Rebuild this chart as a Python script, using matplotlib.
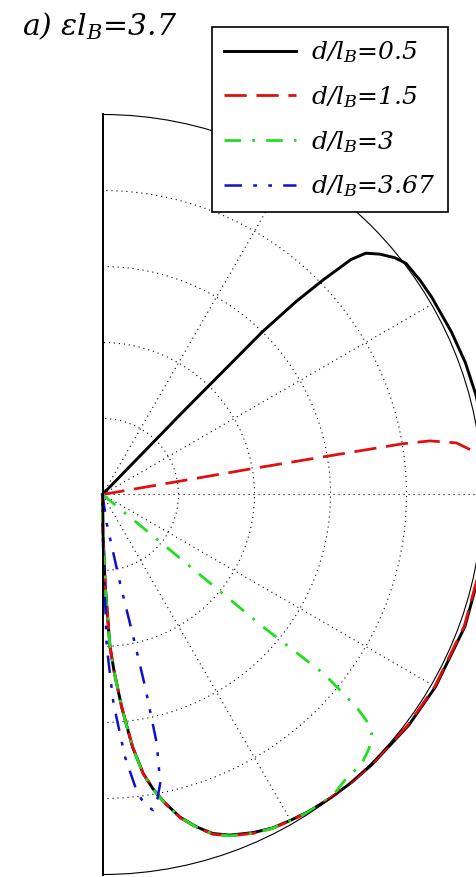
import numpy as np
import matplotlib
matplotlib.use("Agg")
import matplotlib.pyplot as plt

plt.rcParams['mathtext.fontset'] = 'dejavuserif'

# ---- data: (theta in degrees, normalised radius) ----
labels = [r'd/$l_B$=0.5', r'd/$l_B$=1.5', r'd/$l_B$=3', r'd/$l_B$=3.67']

theta_05 = [46.0, 45.8, 45.5, 44.9, 44.2, 43.4, 42.5, 40.9, 39.0, 37.3, 34.0, 31.0, 25.0,
            20.0, 15.0, 10.0, 5.0, 0.0, -10.0, -20.0, -30.0, -37.0, -45.0, -49.0, -53.0,
            -57.0, -60.0, -63.0, -66.0, -69.5, -72.0, -74.2, -76.5, -78.7, -80.3, -81.7,
            -83.2, -84.8, -86.2, -87.2, -88.3, -89.3, -90.0]
r_05 = [0.0, 0.30, 0.60, 0.72, 0.81, 0.90, 0.94, 0.966, 0.99, 1.004, 1.008, 1.01, 1.013,
        1.016, 1.017, 1.018, 1.018, 1.018, 1.016, 1.015, 1.012, 1.009, 1.004, 1.002, 0.999,
        0.995, 0.99, 0.985, 0.974, 0.957, 0.938, 0.909, 0.873, 0.825, 0.785, 0.742,
        0.67, 0.565, 0.47, 0.40, 0.24, 0.10, 0.0]

theta_15 = [9.9, 9.8, 9.6, 9.3, 8.3, 6.5, 4.0, 0.0, -10.0, -20.0, -30.0, -37.0, -45.0,
            -49.0, -53.0, -57.0, -60.0, -63.0, -66.0, -69.5, -72.0, -74.2, -76.5, -78.7,
            -80.3, -81.7, -83.2, -84.8, -86.2, -87.2, -88.3, -89.3, -90.0]
r_15 = [0.0, 0.40, 0.80, 0.873, 0.941, 0.987, 1.005, 1.012, 1.014, 1.013, 1.010, 1.007,
        1.003, 1.001, 0.999, 0.996, 0.991, 0.986, 0.976, 0.959, 0.940, 0.911, 0.875,
        0.826, 0.786, 0.742, 0.668, 0.563, 0.468, 0.398, 0.238, 0.10, 0.0]

theta_3 = [-40.0, -39.4, -39.5, -39.0, -39.9, -40.6, -41.6, -43.6, -46.0, -49.7, -52.5,
           -57.0, -60.0, -63.0, -66.0, -69.5, -72.0, -74.2, -76.5, -78.7, -80.3, -81.7,
           -83.2, -84.8, -86.2, -87.2, -88.3, -89.3, -90.0]
r_3 = [0.0, 0.20, 0.55, 0.75, 0.87, 0.915, 0.947, 0.969, 0.983, 0.986, 0.997,
       0.996, 0.991, 0.986, 0.976, 0.959, 0.940, 0.910, 0.874, 0.826, 0.787, 0.744,
       0.671, 0.566, 0.471, 0.401, 0.241, 0.10, 0.0]

theta_367 = [-82.0, -81.7, -78.8, -77.8, -77.5, -77.7, -78.7, -79.8, -80.9, -82.2, -83.4,
             -85.1, -87.0, -88.4, -88.6, -89.5, -90.0]
r_367 = [0.0, 0.077, 0.238, 0.383, 0.518, 0.670, 0.775, 0.815, 0.841, 0.825, 0.787,
         0.693, 0.550, 0.40, 0.278, 0.12, 0.0]

series = [(theta_05, r_05), (theta_15, r_15), (theta_3, r_3), (theta_367, r_367)]
colors = ['black', '#e01010', '#22dd22', '#1010cc']
styles = ['-', (0, (8, 3.5)), (0, (6, 4, 1, 4)), (0, (7, 4.5, 1.5, 4.5, 1.5, 4.5))]
widths = [2.1, 2.0, 2.0, 1.8]

rings = [0.2, 0.4, 0.6, 0.8]
spokes = [-60, -30, 0, 30, 60]

W, H = 477, 877
fig = plt.figure(figsize=(W / 100, H / 100), dpi=100)
ox, oy, R = 102.5, 877 - 494.5, 380.0
# square axes box of side 2R; the half-disc wedge (width R) is centred inside it
ax = fig.add_axes([(ox - R / 2) / W, (oy - R) / H, 2 * R / W, 2 * R / H],
                  projection='polar')
ax.set_thetamin(-90)
ax.set_thetamax(90)
ax.set_rlim(0, 1)
ax.set_rticks(rings)
ax.set_thetagrids(spokes)
ax.tick_params(labelleft=False, labelbottom=False, labelright=False, labeltop=False,
               length=0)
ax.grid(True, color='black', linestyle=(0, (1, 3.5)), linewidth=0.8)
ax.spines['polar'].set_linewidth(0.8)
ax.spines['start'].set_linewidth(1.4)
ax.spines['end'].set_linewidth(1.4)

for (th, r), c, ls, lw, lab in zip(series, colors, styles, widths, labels):
    ax.plot(np.deg2rad(th), r, color=c, linestyle=ls, linewidth=lw, label=lab,
            clip_on=False)

fs = 18
leg = fig.legend(loc='upper left', bbox_to_anchor=(212 / W, 1 - 27 / H),
                 prop={'family': 'DejaVu Serif', 'style': 'italic', 'size': fs},
                 handlelength=2.85, handletextpad=0.62, labelspacing=0.75,
                 borderpad=0.5, borderaxespad=0, fancybox=False, framealpha=1,
                 edgecolor='black')
leg.get_frame().set_linewidth(1.2)

fig.text(22 / W, 1 - 35 / H, r'a) ε$l_B$=3.7', family='DejaVu Serif',
         style='italic', size=21.5, va='baseline', ha='left')

fig.savefig('out.png', dpi=100)
